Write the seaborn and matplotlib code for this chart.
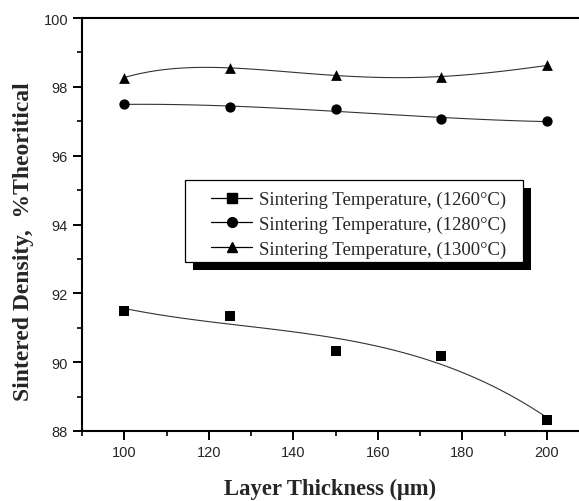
import matplotlib
matplotlib.use("Agg")
import matplotlib.pyplot as plt
from matplotlib.lines import Line2D
from matplotlib.patches import Rectangle
from matplotlib.transforms import offset_copy
from matplotlib.ticker import MultipleLocator
import seaborn as sns

# Data
thickness = [100, 125, 150, 175, 200]
density_1260 = [91.50, 91.35, 90.33, 90.18, 88.33]
density_1280 = [97.50, 97.40, 97.35, 97.07, 97.00]
density_1300 = [98.27, 98.55, 98.33, 98.30, 98.62]
labels = ["Sintering Temperature, (1260°C)",
          "Sintering Temperature, (1280°C)",
          "Sintering Temperature, (1300°C)"]
x_label = "Layer Thickness (μm)"
y_label = "Sintered Density,  %Theoritical"

sns.set_style("ticks")
plt.rcParams["font.family"] = ["Liberation Sans", "DejaVu Sans"]
SERIF = ["Liberation Serif", "DejaVu Serif"]

W, H = 579, 502
fig = plt.figure(figsize=(W / 100, H / 100), dpi=100)
ax = fig.add_axes([82 / W, (H - 432) / H, (W - 82) / W, 413 / H])

series = [(density_1260, "s", 3, 42), (density_1280, "o", 3, 55), (density_1300, "^", 4, 60)]
for vals, mk, order, s in series:
    sns.regplot(x=thickness, y=vals, order=order, ci=None, ax=ax, marker=mk,
                color="black", scatter_kws={"s": s, "alpha": 1, "linewidths": 0, "zorder": 3},
                line_kws={"lw": 0.8, "color": "#333333"}, truncate=True)

ax.set_xlim(90, 207.6)
ax.set_ylim(88, 100)
ax.xaxis.set_major_locator(MultipleLocator(20))
ax.xaxis.set_minor_locator(MultipleLocator(10))
ax.yaxis.set_major_locator(MultipleLocator(2))
ax.yaxis.set_minor_locator(MultipleLocator(1))
ax.tick_params(which="major", length=6.5, width=1.4, labelsize=10.5, pad=3.5, color="black")
ax.tick_params(which="minor", length=3.6, width=1.2, color="black")
for side in ["left", "bottom", "top"]:
    ax.spines[side].set_linewidth(1.5)
    ax.spines[side].set_color("black")
ax.spines["right"].set_visible(False)

ax.set_xlabel(x_label, family=SERIF, fontsize=16.3, fontweight="bold")
ax.xaxis.set_label_coords(0.5, -(489 - 432) / 413)
ax.xaxis.label.set_va("center")
ax.set_ylabel(y_label, family=SERIF, fontsize=17, fontweight="bold")
ax.yaxis.set_label_coords((34 - 82) / 497, (432 - 242) / 413)

# legend frame with drop shadow
fx0, fy0, fx1, fy1 = 185, 181, 523, 263
box = ((fx0 - 82) / 497, (432 - fy1) / 413)
bw, bh = (fx1 - fx0) / 497, (fy1 - fy0) / 413
shadow = Rectangle(box, bw, bh, transform=offset_copy(ax.transAxes, fig=fig, x=8, y=-8, units="dots"),
                   facecolor="black", edgecolor="black", linewidth=0, zorder=3.9)
rect = Rectangle(box, bw, bh, transform=ax.transAxes, facecolor="white", edgecolor="black",
                 linewidth=0.9, zorder=4)
ax.add_patch(shadow)
ax.add_patch(rect)

handles = [Line2D([], [], color="black", lw=0.9, marker=mk, markersize=7)
           for _, mk, _, _ in series]
leg = ax.legend(handles, labels, loc="upper left",
                bbox_to_anchor=((211 - 82) / 497, 1 - (192 - 19) / 413),
                prop={"family": "Liberation Serif", "size": 13.5}, frameon=False,
                handlelength=2.2, handletextpad=0.37, labelspacing=0.39,
                borderpad=0, borderaxespad=0)
leg.set_zorder(5)

fig.savefig("out.png", dpi=100)
